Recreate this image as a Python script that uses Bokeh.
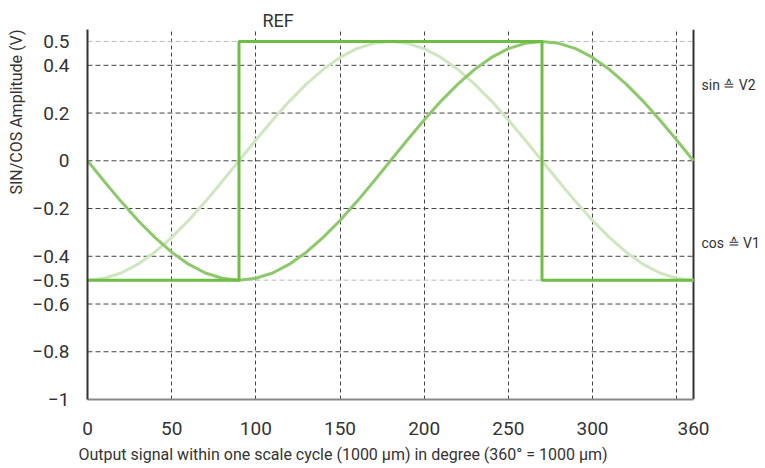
from bokeh.plotting import figure
from bokeh.models import FixedTicker, Grid, Label, Range1d, Title
from bokeh.embed import file_html
from bokeh.resources import INLINE

# ---- data ----
angle_deg = [0, 10, 20, 30, 40, 50, 60, 70, 80, 90, 100, 110, 120, 130, 140, 150, 160, 170, 180,
             190, 200, 210, 220, 230, 240, 250, 260, 270, 280, 290, 300, 310, 320, 330, 340, 350, 360]
sin_v2 = [0, -0.087, -0.171, -0.25, -0.321, -0.383, -0.433, -0.47, -0.492, -0.5,
          -0.492, -0.47, -0.433, -0.383, -0.321, -0.25, -0.171, -0.087, 0,
          0.087, 0.171, 0.25, 0.321, 0.383, 0.433, 0.47, 0.492, 0.5,
          0.492, 0.47, 0.433, 0.383, 0.321, 0.25, 0.171, 0.087, 0]
cos_v1 = [-0.5, -0.492, -0.47, -0.433, -0.383, -0.321, -0.25, -0.171, -0.087, 0,
          0.087, 0.171, 0.25, 0.321, 0.383, 0.433, 0.47, 0.492, 0.5,
          0.492, 0.47, 0.433, 0.383, 0.321, 0.25, 0.171, 0.087, 0,
          -0.087, -0.171, -0.25, -0.321, -0.383, -0.433, -0.47, -0.492, -0.5]
ref_x = [0, 90, 90, 270, 270, 360]
ref_y = [-0.5, -0.5, 0.5, 0.5, -0.5, -0.5]

x_min, x_max = 0, 360
y_min, y_max = -1, 0.55
x_ticks = [0, 50, 100, 150, 200, 250, 300, 360]
x_grid = [50, 100, 150, 200, 250, 300, 350]
y_ticks = [0.5, 0.4, 0.2, 0, -0.2, -0.4, -0.5, -0.6, -0.8, -1]
y_grid_dark = [0.4, 0.2, 0, -0.2, -0.4, -0.6, -0.8]
y_grid_light = [0.5, -0.5]
y_tick_labels = {0.5: "0.5", 0.4: "0.4", 0.2: "0.2", 0: "0", -0.2: "\u22120.2", -0.4: "\u22120.4",
                 -0.5: "\u22120.5", -0.6: "\u22120.6", -0.8: "\u22120.8", -1: "\u22121"}
x_title = "Output signal within one scale cycle (1000\u00a0\u00b5m) in degree (360\u00b0 = 1000\u00a0\u00b5m)"
y_title = "SIN/COS Amplitude (V)"

FONT = "Roboto"
TXT = "#333333"

# layout in pixels
W, H = 762, 468
LEFT, RIGHT_AXIS, TOP, BOTTOM = 87, 693, 29, 400
# frame extends to the right edge so the right-hand notes can be drawn
x_end = x_max * (W - LEFT) / (RIGHT_AXIS - LEFT)

p = figure(width=W, height=H, output_backend="svg", toolbar_location=None,
           x_range=Range1d(x_min, x_end), y_range=Range1d(y_min, y_max),
           min_border_left=LEFT, min_border_right=0, min_border_top=TOP,
           min_border_bottom=H - BOTTOM)
p.outline_line_color = None
p.background_fill_color = "white"

# vertical grid
p.xgrid.ticker = FixedTicker(ticks=x_grid)
p.xgrid.grid_line_color = "#444444"
p.xgrid.grid_line_dash = "4 3"
p.xgrid.grid_line_width = 1
# horizontal grid, limited to the 0..360 span
p.ygrid.visible = False
p.segment(x0=[x_min] * len(y_grid_dark), x1=[x_max] * len(y_grid_dark),
          y0=y_grid_dark, y1=y_grid_dark, line_color="#444444", line_dash="5 3", line_width=1)
p.segment(x0=[x_min] * len(y_grid_light), x1=[x_max] * len(y_grid_light),
          y0=y_grid_light, y1=y_grid_light, line_color="#bbbbbb", line_dash="5 3", line_width=1)

# axes
xa = p.xaxis[0]
xa.ticker = FixedTicker(ticks=x_ticks)
xa.bounds = (x_min, x_max)
xa.axis_line_color = "#888888"
xa.axis_line_width = 2
xa.major_tick_line_color = None
xa.minor_tick_line_color = None
xa.major_label_standoff = 16
xa.major_label_text_font = FONT
xa.major_label_text_font_size = "19px"
xa.major_label_text_color = TXT

ya = p.yaxis[0]
ya.ticker = FixedTicker(ticks=y_ticks)
ya.major_label_overrides = y_tick_labels
ya.axis_line_color = "#333333"
ya.axis_line_width = 2
ya.major_tick_line_color = None
ya.minor_tick_line_color = None
ya.major_label_standoff = 12
ya.major_label_text_font = FONT
ya.major_label_text_font_size = "19px"
ya.major_label_text_color = TXT

# axis titles as side titles (left-aligned / top-aligned like the reference)
p.add_layout(Title(text=x_title, align="left", offset=-9, standoff=10, text_font=FONT,
                   text_font_size="16px", text_font_style="normal", text_color=TXT), "below")
p.add_layout(Title(text=y_title, align="right", offset=0, standoff=8, text_font=FONT,
                   text_font_size="16px", text_font_style="normal", text_color=TXT), "left")

# right-hand frame line at 360
p.segment(x0=[x_max], x1=[x_max], y0=[y_min], y1=[y_max], line_color="#333333", line_width=2)

# curves
p.line(angle_deg, cos_v1, line_color="#cfe6c0", line_width=3)
p.line(angle_deg, sin_v2, line_color="#8dc86b", line_width=3)
p.line(ref_x, ref_y, line_color="#6ebe46", line_width=3)

# labels
p.add_layout(Title(text="REF", align="left", offset=175, standoff=-3, text_font=FONT,
                   text_font_size="18px", text_font_style="normal", text_color=TXT), "above")
p.add_layout(Label(x=x_max, y=0.316, x_offset=8, text="sin \u2259 V2", text_font=FONT,
                   text_font_size="14px", text_color=TXT, text_baseline="middle"))
p.add_layout(Label(x=x_max, y=-0.344, x_offset=8, text="cos \u2259 V1", text_font=FONT,
                   text_font_size="14px", text_color=TXT, text_baseline="middle"))

open("out.html", "w").write(file_html(p, INLINE))
